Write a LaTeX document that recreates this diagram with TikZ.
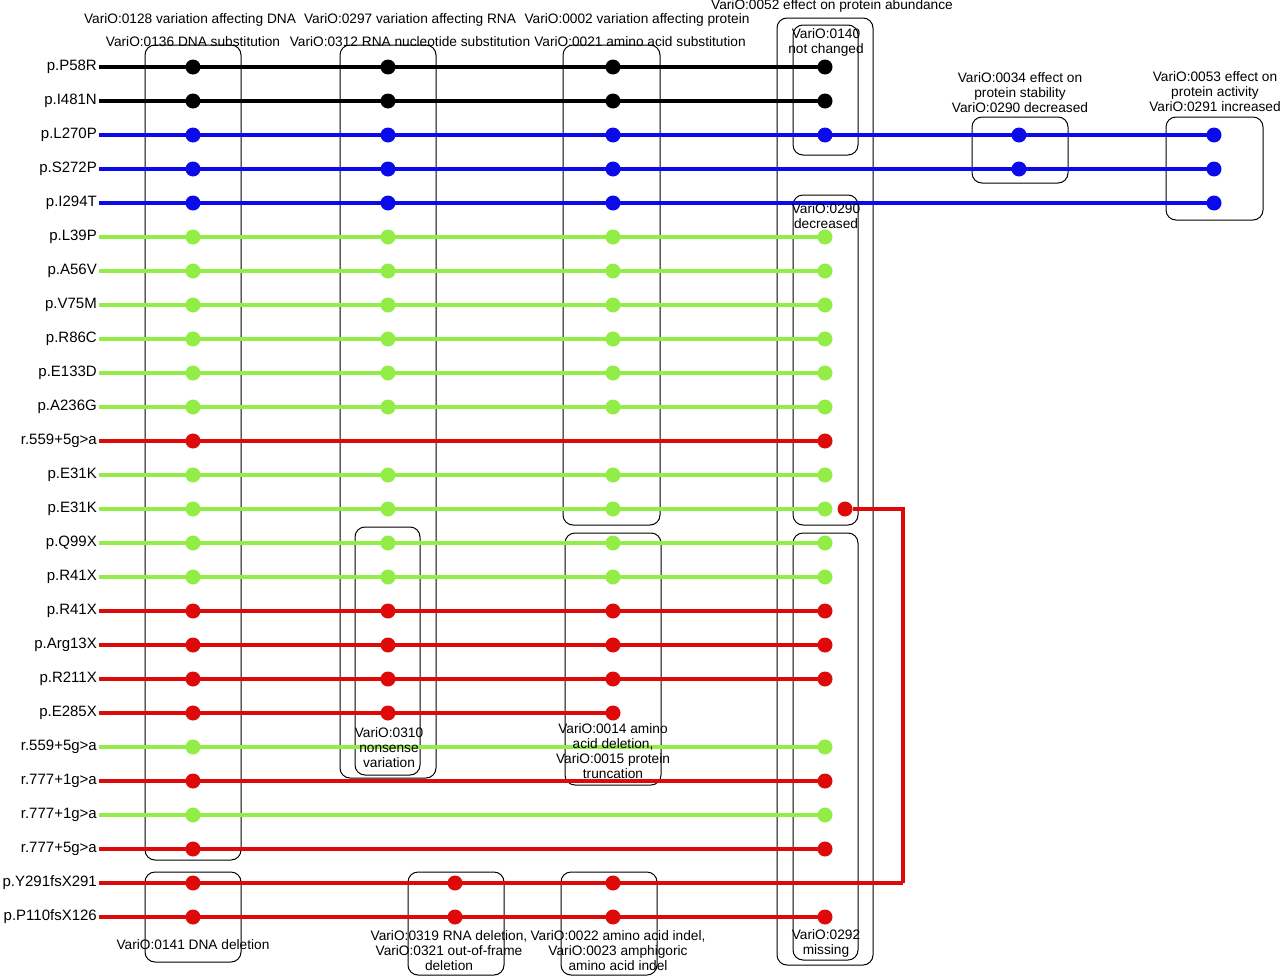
\documentclass[tikz,border=0pt]{standalone}
\usepackage{fontspec}
\setmainfont{Liberation Sans}
\definecolor{vgreen}{RGB}{146,238,70}
\definecolor{vblue}{RGB}{10,10,235}
\definecolor{vred}{RGB}{222,10,10}
\tikzset{
  lab/.style={anchor=east,inner sep=2pt,font=\fontsize{15}{17}\selectfont},
  line/.style={line width=3.5pt},
  dot/.style={circle,minimum size=15pt,inner sep=0pt},
  box/.style={draw,line width=1pt,rounded corners=10pt},
  txt/.style={align=center,inner sep=0pt,font=\fontsize{13.7}{15}\selectfont}
}
% one row: number, label, colour, end of line, dots
\newcommand{\varrow}[5]{%
  \node[lab] (l#1) at (99,{67+34*#1}) {#2};
  \coordinate (e#1) at (#4,{67+34*#1});
  \draw[line,#3] (l#1.east) -- (e#1);
  \foreach \c in {#5}
    \node[dot,fill=#3] (d#1-\c) at (\c,{67+34*#1}) {};
}
\begin{document}
\begin{tikzpicture}[x=1pt,y=-1pt]
\useasboundingbox (0,0) rectangle (1280,977);
%boxes
\draw[box] (145,45) rectangle (241,860);
\draw[box] (340,45) rectangle (436,778);
\draw[box] (563,45) rectangle (660,525);
\draw[box] (777,18) rectangle (873,965);
\draw[box] (793,25) rectangle (858,155);
\draw[box] (793,195) rectangle (858,525);
\draw[box] (793,533) rectangle (858,960);
\draw[box] (355,527) rectangle (420,775);
\draw[box] (565,533) rectangle (661,785);
\draw[box] (972,117) rectangle (1068,183);
\draw[box] (1166,117) rectangle (1263,220);
\draw[box] (145,872) rectangle (241,962);
\draw[box] (408,872) rectangle (504,975);
\draw[box] (561,872) rectangle (657,975);
%rows
\varrow{0}{p.P58R}{black}{825}{193,388,613,825}
\varrow{1}{p.I481N}{black}{825}{193,388,613,825}
\varrow{2}{p.L270P}{vblue}{1214}{193,388,613,825,1019,1214}
\varrow{3}{p.S272P}{vblue}{1214}{193,388,613,1019,1214}
\varrow{4}{p.I294T}{vblue}{1214}{193,388,613,1214}
\varrow{5}{p.L39P}{vgreen}{825}{193,388,613,825}
\varrow{6}{p.A56V}{vgreen}{825}{193,388,613,825}
\varrow{7}{p.V75M}{vgreen}{825}{193,388,613,825}
\varrow{8}{p.R86C}{vgreen}{825}{193,388,613,825}
\varrow{9}{p.E133D}{vgreen}{825}{193,388,613,825}
\varrow{10}{p.A236G}{vgreen}{825}{193,388,613,825}
\varrow{11}{r.559+5g>a}{vred}{825}{193,825}
\varrow{12}{p.E31K}{vgreen}{825}{193,388,613,825}
\varrow{13}{p.E31K}{vgreen}{825}{193,388,613,825}
\varrow{14}{p.Q99X}{vgreen}{825}{193,388,613,825}
\varrow{15}{p.R41X}{vgreen}{825}{193,388,613,825}
\varrow{16}{p.R41X}{vred}{825}{193,388,613,825}
\varrow{17}{p.Arg13X}{vred}{825}{193,388,613,825}
\varrow{18}{p.R211X}{vred}{825}{193,388,613,825}
\varrow{19}{p.E285X}{vred}{613}{193,388,613}
\varrow{20}{r.559+5g>a}{vgreen}{825}{193,825}
\varrow{21}{r.777+1g>a}{vred}{825}{193,825}
\varrow{22}{r.777+1g>a}{vgreen}{825}{193,825}
\varrow{23}{r.777+5g>a}{vred}{825}{193,825}
\varrow{24}{p.Y291fsX291}{vred}{903}{193,455,613}
\varrow{25}{p.P110fsX126}{vred}{825}{193,455,613,825}
%link back to the second E31K
\node[dot,fill=vred] (d13r) at (845,509) {};
\draw[line,vred] (e24) |- (d13r);
%texts
\node[txt] (t1) at (190,20) {VariO:0128 variation affecting DNA};
\node[txt] (t2) at (193,42) {VariO:0136 DNA substitution};
\node[txt] (t3) at (410,20) {VariO:0297 variation affecting RNA};
\node[txt] (t4) at (410,42) {VariO:0312 RNA nucleotide substitution};
\node[txt] (t5) at (637,20) {VariO:0002 variation affecting protein};
\node[txt] (t6) at (640,42) {VariO:0021 amino acid substitution};
\node[txt] (t7) at (832,6) {VariO:0052 effect on protein abundance};
\node[txt] (t8) at (826,42) {VariO:0140\\not changed};
\node[txt] (t9) at (1020,93) {VariO:0034 effect on\\protein stability\\VariO:0290 decreased};
\node[txt] (t10) at (1215,92) {VariO:0053 effect on\\protein activity\\VariO:0291 increased};
\node[txt] (t11) at (826,216) {VariO:0290\\decreased};
\node[txt] (t12) at (389,748) {VariO:0310\\nonsense\\variation};
\node[txt] (t13) at (613,751) {VariO:0014 amino\\acid deletion,\\VariO:0015 protein\\truncation};
\node[txt] (t14) at (193,945) {VariO:0141 DNA deletion};
\node[txt] (t15) at (449,951) {VariO:0319 RNA deletion,\\VariO:0321 out-of-frame\\deletion};
\node[txt] (t16) at (618,951) {VariO:0022 amino acid indel,\\VariO:0023 amphigoric\\amino acid indel};
\node[txt] (t17) at (826,943) {VariO:0292\\missing};
\end{tikzpicture}
\end{document}
